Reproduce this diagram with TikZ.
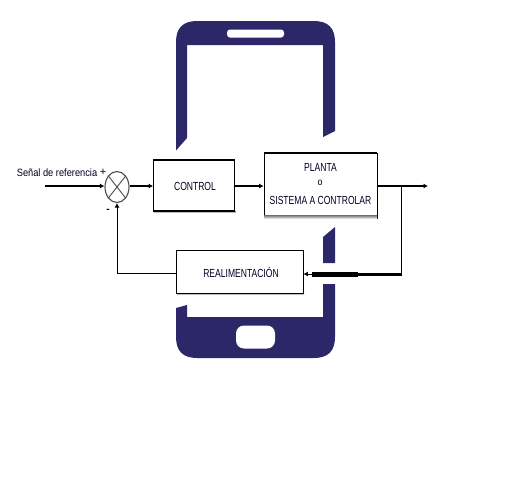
\documentclass[tikz,border=0pt]{standalone}
\usepackage{fontspec}
\setmainfont{Liberation Sans}
\usetikzlibrary{shapes.geometric,arrows.meta,calc}
\definecolor{phone}{HTML}{2B2769}
\definecolor{shade}{HTML}{BDBDBD}
\tikzset{
  block/.style={draw=black,line width=0.8pt,fill=white,minimum width=0pt,inner sep=0pt},
  lbl/.style={font=\fontsize{9}{10}\selectfont,inner sep=0pt,text=black!85!blue},
  wire/.style={line width=1pt,draw=black},
  flow/.style={line width=1.7pt,draw=black,-{Latex[length=4.5pt,width=5pt]}},
  thin flow/.style={line width=1pt,draw=black,-{Latex[length=4.5pt,width=5pt]}},
  phonefill/.style={fill=phone,draw=none}
}
\begin{document}
\begin{tikzpicture}[x=1pt,y=-1pt]
\useasboundingbox (0,0) rectangle (516,488);
\fill[white] (0,0) rectangle (516,488);
% phone body
\fill[phonefill] (176,150.5) -- (176,42) .. controls (176,28) and (183,21) .. (197,21)
  -- (314,21) .. controls (328,21) and (335,28) .. (335,42) -- (335,131) -- (323,137)
  -- (323,45) -- (187,45) -- (187,138) -- cycle;
\fill[phonefill] (323,237) -- (335,227) -- (335,263) -- (323,263) -- cycle;
\fill[phonefill] (176,308) -- (187,305) -- (187,317) -- (323,317) -- (323,284) -- (335,284)
  -- (335,337) .. controls (335,351) and (328,358) .. (314,358) -- (197,358)
  .. controls (183,358) and (176,351) .. (176,337) -- cycle;
\fill[white,rounded corners=3pt] (227,29.5) rectangle (284,37.5);
\fill[white,rounded corners=8pt] (236,325.5) rectangle (275,348.5);
% blocks
\fill[shade] (154,211) rectangle (236,213);
\node[block,minimum width=81pt,minimum height=51pt] (ctrl) at (194,186) {};
\draw[line width=2pt] (153,160) -- (235,160);
\draw[line width=1.6pt] (153,211) -- (235,211);
\node[block,minimum width=113pt,minimum height=65pt] (plant) at (320.5,186) {};
\fill[shade] (264,215.5) rectangle (377,219);
\draw[line width=2.5pt] (264,153) -- (377,153);
\fill[shade] (177,293) rectangle (304,295);
\node[block,minimum width=127pt,minimum height=43pt] (feed) at (239.5,271.5) {};
% summing junction
\node[draw=black!70,line width=1.1pt,fill=white,ellipse,minimum width=24pt,minimum height=31pt,inner sep=0pt] (sum) at (117,187) {};
\draw[black!70,line width=0.9pt] (sum.north west) -- (sum.south east) (sum.north east) -- (sum.south west);
% texts
\node[lbl] (tctrl) at (195,186) {\scalebox{0.95}[1.3]{CONTROL}};
\node[lbl] (tpl) at (320.5,167) {\scalebox{0.95}[1.3]{PLANTA}};
\node[lbl] (to) at (320,183) {\scalebox{1}[1.1]{o}};
\node[lbl] (tsis) at (320.5,200) {\scalebox{0.95}[1.3]{SISTEMA A CONTROLAR}};
\node[lbl] (tfeed) at (241,272) {\scalebox{0.95}[1.3]{REALIMENTACIÓN}};
\node[lbl,font=\fontsize{8.5}{10}\selectfont] (tref) at (57,172.5) {\scalebox{1.09}[1.25]{Señal de referencia}};
\node[lbl,font=\fontsize{11}{12}\selectfont] (tplus) at (103,172) {+};
\node[lbl,font=\bfseries\fontsize{10}{10}\selectfont] (tminus) at (108,211) {-};
% connectors
\coordinate (in) at (45,186);
\coordinate (out) at (428,186);
\coordinate (br) at (401,186);
\coordinate (brd) at (401,273);
\coordinate (cornerb) at (117,273);
\coordinate (th1) at (312,274);
\coordinate (th2) at (358,274);
\draw[flow] (in) -- (sum.west |- in);
\draw[flow] (sum.east |- ctrl.west) -- (ctrl.west);
\draw[flow] (ctrl.east) -- (plant.west);
\draw[flow] (plant.east) -- (out);
\draw[shade,line width=2pt] (358,275) -- (402,275);
\draw[wire] (br) -- (brd) -- (th2 |- brd);
\draw[thin flow] (th1) -- (feed.east |- th1);
\fill (312,271.5) rectangle (358,276.5);
\draw[thin flow] (feed.west |- cornerb) -- (cornerb) -- (sum.south);
\end{tikzpicture}
\end{document}
